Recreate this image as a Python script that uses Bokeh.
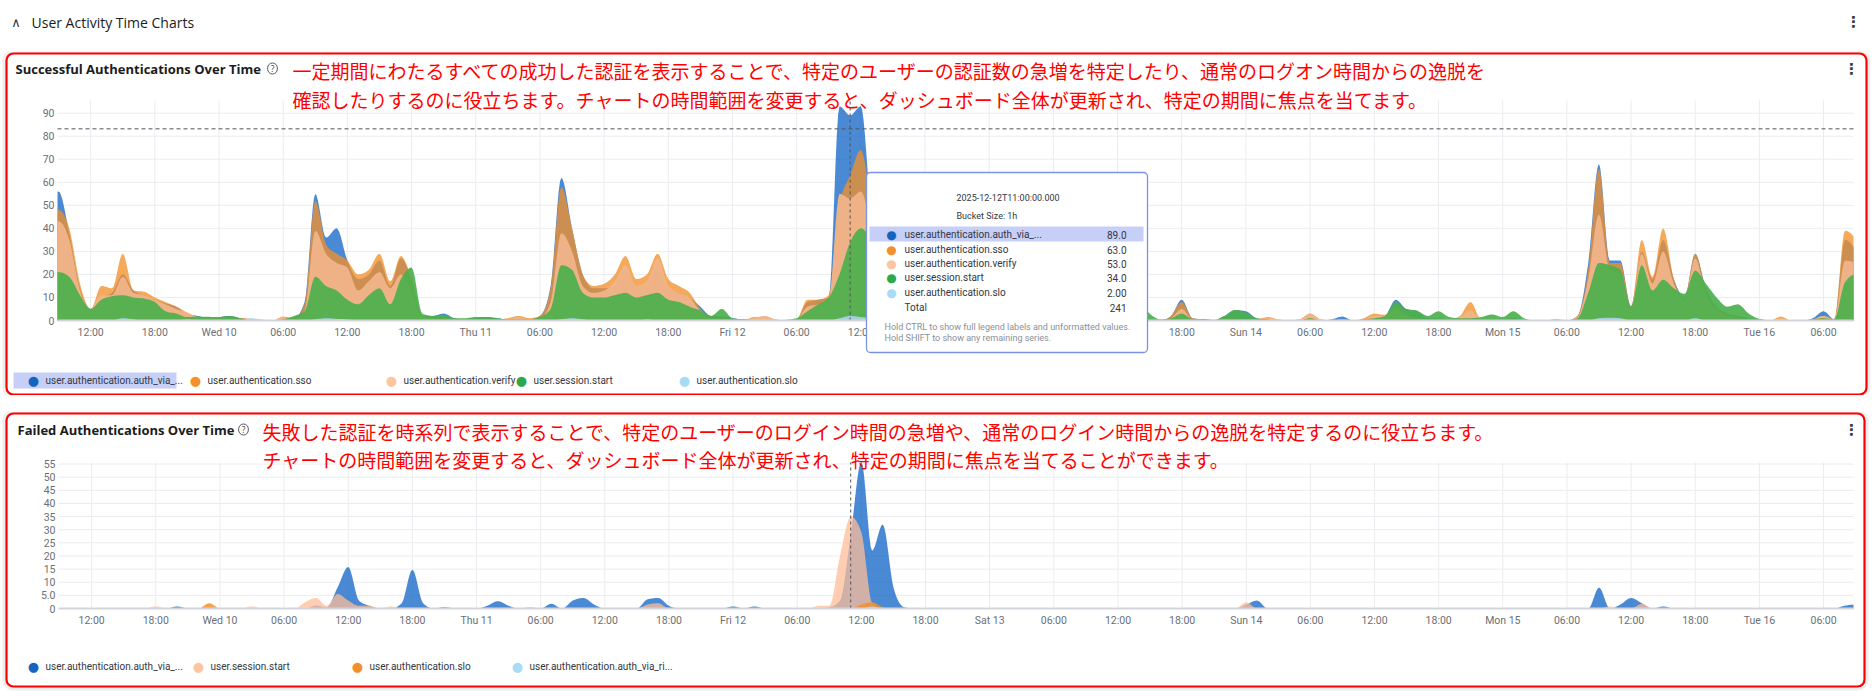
import numpy as np
from bokeh.plotting import figure
from bokeh.models import (Range1d, FixedTicker, CustomJSTickFormatter, Label,
                          BoxAnnotation, Spacer)
from bokeh.layouts import column
from bokeh.embed import file_html
from bokeh.resources import INLINE

# ------------------------------------------------------------------ data
# hourly buckets, index 0 = 2025-12-09 00:00 (one row per day, 24 values)
SERIES_START = "2025-12-09T00:00"

succ_names = ["user.authentication.auth_via_...", "user.authentication.sso",
              "user.authentication.verify", "user.session.start", "user.authentication.slo"]

succ_auth_via = [
    0, 0, 0, 0, 0, 0, 0, 30, 48, 56, 38, 14, 5, 10, 12, 20, 13, 11, 9, 7.5, 6, 3, 2, 1,
    1.5, 2, 1, 0.5, 0, 0, 0.5, 1, 8, 55, 36, 40, 26, 18, 20, 26, 15, 27, 18, 2, 2, 3, 1, 0.5,
    1, 1.5, 1, 0.5, 0.5, 0.5, 2, 15, 62, 40, 20, 14, 14, 15, 22, 14, 15, 22, 14, 12, 10, 6, 2, 2,
    1, 0.5, 0.5, 0, 0, 0, 0.5, 8, 9, 10, 93, 89, 93, 45, 20, 10, 5, 3, 2, 1, 1, 0.5, 0.5, 0.5,
    0.5, 0.5, 0.5, 0.5, 0.5, 0.5, 0.5, 0.5, 0.5, 0.5, 1, 3, 4, 3, 2, 0.5, 0, 2, 9, 1, 0.5, 0, 2, 4.5,
    4, 1, 0.5, 0, 0, 0, 0.5, 0, 0.5, 1.7, 0, 0.5, 1, 2, 9, 5, 4, 1, 1, 0.5, 1, 1, 0.5, 0.5,
    0.5, 1, 0.5, 0, 0, 0, 0, 2, 25, 68, 26, 26, 6, 30, 18, 35, 18, 10, 29, 14, 6, 3, 2, 1,
    0.5, 0, 0.5, 0, 0, 1, 4, 0.5, 35, 30, 0, 0, 0, 0, 0, 0, 0, 0, 0, 0, 0, 0, 0, 0,
]
succ_sso = [
    0, 0, 0, 0, 0, 0, 0, 30, 47, 48, 40, 16, 5, 15, 14, 29, 13, 12.5, 10, 8, 6, 3.5, 1.5, 1.5,
    1, 1, 1, 0.7, 0, 0, 1.7, 1, 7, 52, 33, 29, 26, 20, 22, 29, 17, 28, 18, 2, 1, 1, 0.5, 0.3,
    0.5, 0.5, 0.5, 1, 2, 1, 2, 14, 58, 40, 20, 15, 16, 20, 28, 18, 20, 29, 18, 15, 12, 5, 1.5, 1,
    0.5, 0, 1.5, 1.5, 0.5, 0, 0.5, 9, 9, 11, 50, 63, 74, 50, 25, 15, 8, 4, 2, 1, 1, 0.5, 0.5, 0.5,
    0.5, 0, 0, 0, 0, 0, 0, 0, 0, 0, 1, 2, 3, 2, 2, 0.5, 0, 2, 8, 1, 0.5, 0, 1, 1,
    0.5, 0.5, 1.5, 0.5, 0, 0.5, 3, 0.5, 0, 0.5, 0, 1, 3, 2.5, 6, 3, 1, 0.5, 0.5, 0.5, 2, 8, 0.5, 0.5,
    0, 0.5, 0, 0, 0, 0.7, 0, 2, 22, 66, 25, 25, 6, 35, 19, 40, 18, 10, 29, 13, 6, 3, 2, 0.5,
    0.5, 0, 1.7, 0, 0, 0.5, 2, 0.5, 39, 35, 0, 0, 0, 0, 0, 0, 0, 0, 0, 0, 0, 0, 0, 0,
]
succ_verify = [
    0, 0, 0, 0, 0, 0, 0, 27, 41, 43, 35, 13, 5, 11, 11, 19, 12, 11, 9, 7, 5, 3.5, 1.5, 1,
    1, 1, 0.5, 0.5, 0, 0, 1.5, 0.5, 4, 39, 29, 25, 23, 13, 17, 21, 14, 20, 12, 1.5, 1, 1, 0.5, 0.3,
    0.5, 0.5, 0.5, 0.5, 1.5, 0.5, 1, 8, 38, 30, 15, 12, 13, 17, 24, 15, 17, 27, 15, 12, 10, 4, 1, 1,
    0.5, 0, 1, 2, 0.5, 0, 0.5, 6, 7, 9, 55, 53, 56, 40, 22, 12, 6, 3, 2, 1, 1, 0.5, 0.5, 0.5,
    0.5, 0, 0, 0, 0, 0, 0, 0, 0, 0, 0.5, 2, 2, 2, 1, 0.5, 0, 1, 5, 0.5, 0.5, 0, 0.5, 0.5,
    0.5, 0.5, 1, 0.5, 0, 0.5, 3, 0.5, 0, 0.5, 0, 0.5, 2, 2, 5, 2, 1, 0.5, 0.5, 0.5, 1.5, 4.3, 0.5, 0.5,
    0, 0.5, 0, 0, 0, 0.5, 0, 1.5, 18, 46, 22, 20, 5, 29, 16, 30, 16, 9, 27, 11, 5, 2, 1, 0.5,
    0.5, 0, 1, 0, 0, 0.5, 2, 0.5, 26, 25, 0, 0, 0, 0, 0, 0, 0, 0, 0, 0, 0, 0, 0, 0,
]
succ_session_start = [
    0, 0, 0, 0, 0, 0, 0, 14, 21, 21, 19, 11, 5, 9, 10.5, 11, 10, 9.5, 8, 4, 3, 1.5, 1.7, 1.6,
    1.5, 2, 1, 0.3, 0, 0, 0.5, 2, 4, 19, 15, 13, 9, 7, 11, 14, 7, 18, 23, 3, 2, 2.5, 1, 1,
    1.5, 1.5, 1, 0.5, 0.5, 0.5, 1.5, 5, 24, 22, 12, 10, 10, 11, 12, 10, 11, 12, 9, 8, 6, 4.3, 2, 5,
    1, 0.5, 0, 0, 0, 0.3, 1, 4, 7, 10, 20, 34, 40, 35, 25, 15, 10, 6, 4, 2, 1.5, 1, 1, 1,
    1, 0.5, 0.5, 0.5, 0.5, 0.5, 0.5, 0.5, 0.5, 0.5, 2, 5, 8, 9, 8, 3, 0.5, 1, 3, 0.7, 0.7, 0.3, 2, 4.6,
    3.5, 1, 0.5, 0, 0, 0, 1, 0, 0, 0.5, 0, 0.5, 1, 2, 8, 5, 4.3, 2, 4, 1.5, 1, 1, 1.5, 2.6,
    1.5, 4, 1, 0, 0, 0, 0, 1, 12, 25, 24, 22, 6, 24, 13, 17.7, 14, 11.6, 21.7, 16, 10, 6, 7, 3,
    0.7, 0, 0, 0, 0, 0.5, 1, 0.5, 16.6, 20, 0, 0, 0, 0, 0, 0, 0, 0, 0, 0, 0, 0, 0, 0,
]
succ_slo = [
    0, 0, 0, 0, 0, 0, 0, 0, 0, 0, 0, 0, 0, 0, 0, 1, 0.5, 0, 0, 0, 0, 0.5, 0, 0,
    0, 0, 0, 1, 0.5, 0, 0, 0, 0, 0.5, 1, 0.7, 0.5, 0, 0, 0, 0, 0, 0, 0, 0, 0, 0, 0,
    0, 0, 0, 0, 0, 0, 0, 0, 0.5, 1, 0.5, 0, 0, 0, 0, 0, 0.5, 0, 0, 0, 0, 0, 0, 0,
    0, 0, 0, 0, 0, 0, 0, 0, 0, 0, 1, 2, 1.5, 1, 0.5, 0, 0, 0, 0, 0, 0, 0, 0, 0,
    0, 0, 0, 0, 0, 0, 0, 0, 0, 0, 0, 0, 0, 0, 0, 0, 0, 0, 0, 0, 0, 0, 0, 0,
    0, 0, 0, 0, 0, 0, 0, 0, 0, 0, 0, 0, 0, 0, 0, 0, 0, 0, 0, 0, 0, 0, 0, 0,
    0, 0, 0, 0, 0, 0, 0, 0, 0, 1, 1.2, 1, 0, 0, 0, 0, 0, 0, 1, 0, 0, 0, 0, 0,
    0, 0, 0, 0, 0, 0, 0, 0, 0, 0, 0, 0, 0, 0, 0, 0, 0, 0, 0, 0, 0, 0, 0, 0,
]
succ_reference_line = 83.2

fail_names = ["user.authentication.auth_via_...", "user.session.start",
              "user.authentication.slo", "user.authentication.auth_via_ri..."]

fail_auth_via = [
    0, 0, 0, 0, 0, 0, 0, 0, 0, 0, 0, 0, 0, 0, 0, 0, 0, 0, 0, 0, 0.8, 0, 0, 0,
    0, 0, 0, 0, 0, 0, 0, 0, 0, 1.1, 0.5, 8, 15.8, 3, 1, 0, 0, 2, 14.8, 2, 0, 0.5, 0, 0,
    0, 1, 2.8, 1, 0, 0, 0, 1.8, 0, 3, 4, 1.5, 0, 0, 0, 0, 3.5, 4, 1, 0, 0, 0, 0, 0,
    0.8, 0, 0.8, 0, 0, 0, 0, 0, 0, 0.5, 3, 28, 56, 22, 32, 8, 0.5, 0, 0, 0, 0, 0, 0, 0,
    0, 0, 0, 0, 0, 0, 0, 0, 0, 0, 0, 0, 0, 0, 0, 0, 0, 0, 0, 0, 0, 0, 0, 0,
    1.5, 3, 0, 0, 0, 0, 0, 0, 0, 0, 0, 0, 0, 0, 0, 0, 0, 0, 0, 0, 0, 0, 0, 0,
    0, 0, 0, 0, 0, 0, 0, 0, 0, 8, 0, 1.5, 4, 2, 0, 0.8, 0, 0, 0, 0, 0, 0, 0, 0,
    0, 0, 0, 0, 0, 0, 0, 0, 1.1, 1.5, 0, 0, 0, 0, 0, 0, 0, 0, 0, 0, 0, 0, 0, 0,
]
fail_session_start = [
    0, 0, 0, 0, 0, 0, 0, 0, 0, 0, 0, 0, 0, 0, 0, 0, 0, 0, 0.8, 0, 0, 0, 0, 0,
    0, 0, 0, 0.8, 0, 0, 0, 0, 2.5, 4, 1, 5.5, 3, 1, 1, 0, 0.8, 0, 0, 0, 0, 0, 0, 0,
    0, 0, 0, 0, 0, 0, 0, 0, 0, 0, 0, 0, 0, 0, 0, 0, 1.5, 2, 0, 0, 0, 0, 0, 0,
    0, 0, 0, 0, 0, 0, 0, 0, 1, 1, 20, 35, 29, 2, 0, 0, 0, 0, 0, 0, 0, 0, 0, 0,
    0, 0, 0, 0, 0, 0, 0, 0, 0, 0, 0, 0, 0, 0, 0, 0, 0, 0, 0, 0, 0, 0, 0, 0,
    2.4, 0, 0, 0, 0, 0, 0, 0, 0, 0, 0, 0, 0, 0, 0, 0, 0, 0, 0, 0, 0, 0, 0, 0,
    0, 0, 0, 0, 0, 0, 0, 0, 0, 0, 0.8, 0, 0, 1.8, 0, 0, 0, 0, 0, 0, 0, 0, 0, 0,
    0, 0, 0, 0, 0, 0, 0, 0, 0, 0, 0, 0, 0, 0, 0, 0, 0, 0, 0, 0, 0, 0, 0, 0,
]
fail_slo = [
    0, 0, 0, 0, 0, 0, 0, 0, 0, 0, 0, 0, 0, 0, 0, 0, 0, 0, 0, 0, 0, 0, 0, 2,
    0, 0, 0, 0, 0, 0, 0, 0, 0, 0, 0, 0, 0, 0, 0, 0, 0, 0, 0, 0, 0, 0, 0, 0,
    0, 0, 0, 0, 0, 0, 0, 0, 0, 0, 0, 0, 0, 0, 0, 0, 0, 0, 0, 0, 0, 0, 0, 0,
    0, 0, 0, 0, 0, 0, 0, 0, 0, 0, 0, 0, 1.5, 2.4, 0.5, 0, 0, 0, 0, 0, 0, 0, 0, 0,
    0, 0, 0, 0, 0, 0, 0, 0, 0, 0, 0, 0, 0, 0, 0, 0, 0, 0, 0, 0, 0, 0, 0, 0,
    0, 0, 0, 0, 0, 0, 0, 0, 0, 0, 0, 0, 0, 0, 0, 0, 0, 0, 0, 0, 0, 0, 0, 0,
    0, 0, 0, 0, 0, 0, 0, 0, 0, 0, 0, 0, 0, 0, 0, 0, 0, 0, 0, 0, 0, 0, 0, 0,
    0, 0, 0, 0, 0, 0, 0, 0, 0, 0, 0, 0, 0, 0, 0, 0, 0, 0, 0, 0, 0, 0, 0, 0,
]
fail_auth_via_ri = [
    0, 0, 0, 0, 0, 0, 0, 0, 0, 0, 0, 0, 0, 0, 0, 0, 0, 0, 0, 0, 0, 0, 0, 0,
    0, 0, 0, 0, 0, 0, 0, 0, 0, 0, 0, 0, 0, 0, 0, 0, 0, 0, 0, 0, 0, 0, 0, 0,
    0, 0, 0, 0, 0, 0.6, 0, 0, 0, 0, 0, 0, 0, 0, 0, 0, 0, 0, 0, 0, 0, 0, 0, 0,
    0, 0, 0, 0, 0, 0, 0, 0, 0, 0, 0, 0, 0, 0.8, 0, 0, 0, 0, 0, 0, 0, 0, 0, 0,
    0, 0, 0, 0, 0, 0, 0, 0, 0, 0, 0, 0, 0, 0, 0, 0, 0, 0, 0, 0, 0, 0, 0, 0,
    0, 0, 0, 0, 0, 0, 0, 0, 0, 0, 0, 0, 0, 0, 0, 0, 0, 0, 0, 0, 0, 0, 0, 0,
    0, 0, 0, 0, 0, 0, 0, 0, 0, 0, 0, 0, 0, 0, 0, 0, 0, 0, 0, 0, 0, 0, 0, 0,
    0, 0, 0, 0, 0, 0, 0, 0, 0, 0, 0, 0, 0, 0, 0, 0, 0, 0, 0, 0, 0, 0, 0, 0,
]

x_tick_hours = list(range(12, 175, 6))
x_tick_labels = ["12:00", "18:00",
                 "Wed 10", "06:00", "12:00", "18:00",
                 "Thu 11", "06:00", "12:00", "18:00",
                 "Fri 12", "06:00", "12:00", "18:00",
                 "Sat 13", "06:00", "12:00", "18:00",
                 "Sun 14", "06:00", "12:00", "18:00",
                 "Mon 15", "06:00", "12:00", "18:00",
                 "Tue 16", "06:00"]
succ_y_ticks = [0, 10, 20, 30, 40, 50, 60, 70, 80, 90]
succ_y_labels = ["0", "10", "20", "30", "40", "50", "60", "70", "80", "90"]
fail_y_ticks = [0, 5, 10, 15, 20, 25, 30, 35, 40, 45, 50, 55]
fail_y_labels = ["0", "5.0", "10", "15", "20", "25", "30", "35", "40", "45", "50", "55"]

hover_hour = 83                  # 2025-12-12 11:00 bucket shown in the tooltip
visible_hours = (8.9, 176.8)     # shown time window, hours after SERIES_START

# ------------------------------------------------------------------ helpers
BASE_MS = float(np.datetime64(SERIES_START, "ms").astype(np.int64))
HOUR_MS = 3600000.0
W = 1873
PAGE_L, PAGE_R = 0, W
FONT = "Roboto"
GRID = "#ebecef"
INK = "#343741"


def to_ms(h):
    return BASE_MS + np.asarray(h, dtype=float) * HOUR_MS


def monotone(vals, sub=8):
    """monotone-x cubic through the hourly buckets (rendering only), clipped to the window"""
    y = np.asarray(vals, dtype=float)
    s = np.diff(y)
    m = np.empty(len(y))
    a, b = s[:-1], s[1:]
    lim = np.minimum(np.minimum(np.abs(a), np.abs(b)), 0.25 * np.abs(a + b))
    m[1:-1] = np.where(a * b > 0, np.sign(a) * 2 * lim, 0.0)
    m[0], m[-1] = s[0], s[-1]
    u = np.linspace(0, 1, sub, endpoint=False)[None, :]
    h00 = 2 * u**3 - 3 * u**2 + 1
    h10 = u**3 - 2 * u**2 + u
    h01 = -2 * u**3 + 3 * u**2
    h11 = u**3 - u**2
    yy = h00 * y[:-1, None] + h10 * m[:-1, None] + h01 * y[1:, None] + h11 * m[1:, None]
    tt = np.arange(len(y) - 1, dtype=float)[:, None] + u
    tt = np.append(tt.ravel(), len(y) - 1)
    yy = np.clip(np.append(yy.ravel(), y[-1]), 0, None)
    lo, hi = visible_hours
    keep = (tt > lo) & (tt < hi)
    t2 = np.concatenate([[lo], tt[keep], [hi]])
    y2 = np.concatenate([[np.interp(lo, tt, yy)], yy[keep], [np.interp(hi, tt, yy)]])
    return to_ms(t2), y2


def lookup_formatter(ticks, labels):
    return CustomJSTickFormatter(args=dict(ts=[float(t) for t in ticks], ls=list(labels)), code="""
        let b = 0, d = Infinity;
        for (let i = 0; i < ts.length; i++) { const e = Math.abs(ts[i] - tick); if (e < d) { d = e; b = i; } }
        return ls[b];""")


class Panel:
    """a card: the whole canvas is the frame, the plot area sits inside it"""

    def __init__(self, top, height, pl, pr, pt, pb, ymax, yticks, ylabels, box_r, box_b):
        self.top, self.h = top, height
        lo, hi = visible_hours
        self.hpp = (hi - lo) / (pr - pl)
        x0h = lo - (pl - PAGE_L) * self.hpp
        x1h = hi + (PAGE_R - pr) * self.hpp
        self.x0h = x0h
        self.upp = ymax / (pb - pt)
        self.ytop = ymax + (pt - top) * self.upp
        ybot = -(top + height - pb) * self.upp
        p = figure(frame_width=W, frame_height=height, x_axis_type="datetime",
                   x_range=Range1d(float(to_ms(x0h)), float(to_ms(x1h))),
                   y_range=Range1d(ybot, self.ytop), min_border=0,
                   output_backend="svg", toolbar_location=None)
        p.outline_line_color = None
        p.grid.visible = False
        self.p = p
        # card shadow + red outline
        self.box(4, box_r + 2, top + 0.5, box_b + 2, fill_color=None,
                 line_color="#000000", line_alpha=0.07, line_width=4, border_radius=9,
                 level="underlay")
        self.box(6, box_r, top + 2, box_b, fill_color=None, line_color="#ff0000",
                 line_alpha=1, line_width=2.2, border_radius=7, level="underlay")
        xt_ms = [float(v) for v in to_ms(x_tick_hours)]
        # grid lines over the plot area only
        p.segment(x0=xt_ms, y0=0, x1=xt_ms, y1=ymax, line_color=GRID, line_width=1)
        p.segment(x0=float(to_ms(lo)), y0=yticks, x1=float(to_ms(hi)), y1=yticks,
                  line_color=GRID, line_width=1)
        p.xaxis.ticker = FixedTicker(ticks=xt_ms)
        p.xaxis.formatter = lookup_formatter(xt_ms, x_tick_labels)
        p.xaxis.fixed_location = 0
        p.xaxis.bounds = (float(to_ms(lo)), float(to_ms(hi)))
        p.yaxis.ticker = FixedTicker(ticks=yticks)
        p.yaxis.formatter = lookup_formatter(yticks, ylabels)
        p.yaxis.fixed_location = float(to_ms(lo))
        p.yaxis.bounds = (0, ymax)
        p.axis.major_tick_line_color = None
        p.axis.minor_tick_line_color = None
        p.axis.major_tick_out = 0
        p.axis.major_tick_in = 0
        p.axis.minor_tick_out = 0
        p.axis.minor_tick_in = 0
        p.axis.major_label_text_font = FONT
        p.axis.major_label_text_font_size = "10.5px"
        p.axis.major_label_text_color = "#6a6f78"
        p.yaxis.axis_line_color = None
        p.xaxis.axis_line_color = "#d3d5da"
        p.xaxis.axis_line_width = 2
        p.xaxis.major_label_standoff = 5
        p.yaxis.major_label_standoff = 3

    def X(self, px):
        return float(to_ms(self.x0h + (px - PAGE_L) * self.hpp))

    def Y(self, py):
        return self.ytop - (py - self.top) * self.upp

    def text(self, px, py, text, **kw):
        opts = dict(text_font=FONT, text_font_size="10px", text_color=INK,
                    text_baseline="middle", text_align="left")
        opts.update(kw)
        self.p.add_layout(Label(x=self.X(px), y=self.Y(py), text=text, **opts))

    def box(self, l, r, t, b, **kw):
        self.p.add_layout(BoxAnnotation(left=self.X(l), right=self.X(r), top=self.Y(t),
                                        bottom=self.Y(b), **kw))

    def header(self, title, ty, tx, qx, lines, jx, jys):
        self.text(tx, ty, title, text_font="Open Sans", text_font_style="bold",
                  text_font_size="13px", text_color="#1a1c21")
        self.text(qx, ty, "?", text_font="Open Sans", text_font_size="8.5px",
                  text_align="center", text_color=INK, border_line_color="#555a63",
                  border_line_width=1, border_radius=6, padding=(3, 0))
        for line, jy in zip(lines, jys):
            self.text(jx, jy, line, text_font="Noto Sans CJK JP", text_font_size="19px",
                      text_color="#ff0000")
        self.text(1851, ty, "⋮", text_font="DejaVu Sans", text_font_size="15px",
                  text_font_style="bold", text_align="center")

    def legend(self, names, colors, centers, cy, **kw):
        for name, col, cx in zip(names, colors, centers):
            self.text(cx, cy, "●", text_font="DejaVu Sans", text_font_size="13px",
                      text_align="center", text_color=col, **kw)
            self.text(cx + 12, cy, name, text_font_size="10px", **kw)

    def areas(self, series, colors, alphas):
        for vals, col, a in zip(series, colors, alphas):
            xs, ys = monotone(vals)
            self.p.varea(x=xs, y1=0, y2=ys, fill_color=col, fill_alpha=a)


# ------------------------------------------------------------------ header strip
hdr = figure(frame_width=W, frame_height=51, x_range=Range1d(PAGE_L, PAGE_R),
             y_range=Range1d(51, 0), x_axis_type=None, y_axis_type=None,
             output_backend="svg", toolbar_location=None, min_border=0)
hdr.outline_line_color = None
hdr.add_layout(Label(x=15.5, y=21.5, text="∧", text_font="DejaVu Sans", text_font_size="13px",
                     text_align="center", text_baseline="middle", text_color=INK))
hdr.add_layout(Label(x=31, y=21.5, text="User Activity Time Charts", text_font="Open Sans",
                     text_font_size="14px", text_baseline="middle", text_color="#1a1c21"))
hdr.add_layout(Label(x=1853, y=21.5, text="⋮", text_font="DejaVu Sans", text_font_size="15px",
                     text_font_style="bold", text_align="center", text_baseline="middle",
                     text_color=INK))

# ------------------------------------------------------------------ successful auths
SUCC_COLORS = ["#1769c8", "#f2912c", "#f0b489", "#4cb04c", "#a8d4ea"]
SUCC_ALPHA = [0.78, 0.78, 0.95, 0.92, 0.9]
SUCC_DOTS = ["#1565c0", "#f2912c", "#ffc4a0", "#2ea84a", "#a8dcf4"]
succ_series = [succ_auth_via, succ_sso, succ_verify, succ_session_start, succ_slo]
P1 = Panel(51, 344, 57, 1853, 100, 320, 95.5, succ_y_ticks, succ_y_labels, 1866, 394)
P1.areas(succ_series, SUCC_COLORS, SUCC_ALPHA)
lo_ms, hi_ms = [float(v) for v in to_ms(visible_hours)]
P1.p.segment(x0=lo_ms, y0=succ_reference_line, x1=hi_ms, y1=succ_reference_line,
             line_color="#50545c", line_dash="4 3", line_width=1)
P1.p.segment(x0=float(to_ms(hover_hour)), y0=0, x1=float(to_ms(hover_hour)), y1=95.5,
             line_color="#50545c", line_dash="3 3", line_width=1)
P1.header("Successful Authentications Over Time", 68, 15, 272,
          ["一定期間にわたるすべての成功した認証を表示することで、特定のユーザーの認証数の急増を特定したり、通常のログオン時間からの逸脱を",
           "確認したりするのに役立ちます。チャートの時間範囲を変更すると、ダッシュボード全体が更新され、特定の期間に焦点を当てます。"],
          292, [70, 98.5])
P1.box(13, 176, 372, 388, fill_color="#c5cff8", fill_alpha=1, line_color=None, level="annotation")
P1.legend(succ_names, SUCC_DOTS, [33, 195, 391, 521, 684], 380)

# tooltip
P1.box(866, 1147, 172, 352, fill_color="white", fill_alpha=1, line_color="#7b93e3",
       line_alpha=1, line_width=1.3, border_radius=4, level="overlay")
P1.box(869, 1143, 226, 241, fill_color="#c5cff8", fill_alpha=1, line_color=None, level="overlay")
hover_stamp = str(np.datetime64(SERIES_START, "ms") + np.timedelta64(hover_hour, "h"))
P1.text(956, 197, hover_stamp, text_font_size="9px", level="overlay")
P1.text(956, 215, "Bucket Size: 1h", text_font_size="9px", level="overlay")


def fmt3(v):
    return f"{v:.0f}" if v >= 100 else (f"{v:.1f}" if v >= 10 else f"{v:.2f}")


hover_vals = [s[hover_hour] for s in succ_series]
for i, (name, col, v) in enumerate(zip(succ_names, SUCC_DOTS, hover_vals)):
    yy = [234, 249, 263, 277, 292][i]
    P1.text(891, yy, "●", text_font="DejaVu Sans", text_font_size="12px",
            text_align="center", text_color=col, level="overlay")
    P1.text(904, yy, name, text_font_size="10px", level="overlay")
    P1.text(1126, yy, fmt3(v), text_font_size="10px", text_align="right", level="overlay")
P1.text(904, 307, "Total", text_font_size="10px", level="overlay")
P1.text(1126, 307, fmt3(sum(hover_vals)), text_font_size="10px", text_align="right",
        level="overlay")
P1.text(884, 326, "Hold CTRL to show full legend labels and unformatted values.",
        text_font_size="9px", text_color="#8a8f98", level="overlay")
P1.text(884, 337, "Hold SHIFT to show any remaining series.",
        text_font_size="9px", text_color="#8a8f98", level="overlay")

# ------------------------------------------------------------------ failed auths
FAIL_COLORS = ["#1769c8", "#ffbe98", "#f2912c", "#a8d4ea"]
FAIL_ALPHA = [0.78, 0.75, 0.85, 0.9]
FAIL_DOTS = ["#1565c0", "#ffc4a0", "#f2912c", "#a8dcf4"]
fail_series = [fail_auth_via, fail_session_start, fail_slo, fail_auth_via_ri]
P2 = Panel(411, 280, 58, 1853, 462, 608, 55.6, fail_y_ticks, fail_y_labels, 1864, 686)
P2.areas(fail_series, FAIL_COLORS, FAIL_ALPHA)
P2.p.segment(x0=float(to_ms(hover_hour)), y0=0, x1=float(to_ms(hover_hour)), y1=55.6,
             line_color="#50545c", line_dash="3 3", line_width=1)
P2.header("Failed Authentications Over Time", 429, 17, 243,
          ["失敗した認証を時系列で表示することで、特定のユーザーのログイン時間の急増や、通常のログイン時間からの逸脱を特定するのに役立ちます。",
           "チャートの時間範囲を変更すると、ダッシュボード全体が更新され、特定の期間に焦点を当てることができます。"],
          262, [431, 459])
P2.legend(fail_names, FAIL_DOTS, [33, 198, 357, 517], 666)

layout = column(hdr, P1.p, Spacer(width=W, height=16), P2.p)
open("out.html", "w").write(file_html(layout, INLINE))
